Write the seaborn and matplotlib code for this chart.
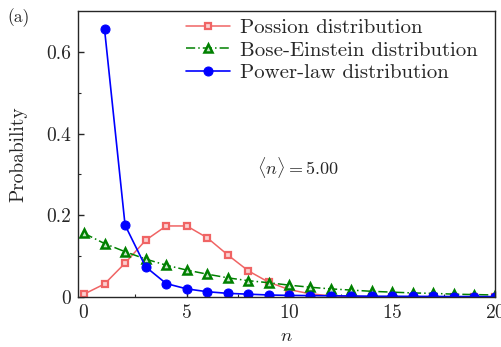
import numpy as np
import pandas as pd
import seaborn as sns
import matplotlib.pyplot as plt

# values
n_vals = list(range(0, 21))
poisson = [0.007, 0.032, 0.083, 0.139, 0.174, 0.174, 0.145, 0.103, 0.064, 0.036,
           0.018, 0.008, 0.003, 0.0015, 0.0006, 0.0002, 0.0001, 0.0, 0.0, 0.0, 0.0]
bose = [0.156, 0.131, 0.111, 0.093, 0.078, 0.066, 0.056, 0.047, 0.040, 0.035,
        0.029, 0.024, 0.020, 0.017, 0.014, 0.012, 0.010, 0.009, 0.007, 0.006, 0.005]
n_pow = list(range(1, 21))
power = [0.656, 0.176, 0.074, 0.033, 0.020, 0.013, 0.009, 0.007, 0.005, 0.004,
         0.0035, 0.003, 0.0025, 0.002, 0.0018, 0.0016, 0.0014, 0.0012, 0.0011, 0.001]

sns.set_style("ticks")
plt.rcParams['font.family'] = ['serif']
plt.rcParams['font.serif'] = ['cmr10', 'DejaVu Serif']
plt.rcParams['mathtext.fontset'] = 'cm'
plt.rcParams['axes.formatter.use_mathtext'] = True

fig = plt.figure(figsize=(5.02, 3.47), dpi=100)
ax = fig.add_axes([0.155, 0.144, 0.831, 0.824])

sns.lineplot(x=n_vals, y=poisson, ax=ax, color='#f06464', lw=1.1, marker='s',
             ms=4.5, mfc='#fbd0d0', mec='#f06464', mew=1.6, label='Possion distribution')
sns.lineplot(x=n_vals, y=bose, ax=ax, color='#008000', lw=1.1, marker='^',
             ms=5.5, mfc='#c8e6c8', mec='#008000', mew=1.8, label='Bose-Einstein distribution')
ax.lines[-1].set_dashes([6, 2, 1, 2])
sns.lineplot(x=n_pow, y=power, ax=ax, color='#0000ff', lw=1.2, marker='o',
             ms=6.5, mec='#0000ff', label='Power-law distribution')

ax.set_xlim(-0.3, 20)
ax.set_ylim(0, 0.70)
ax.set_xticks([0, 5, 10, 15, 20])
ax.set_xticks([2.5, 7.5, 12.5, 17.5], minor=True)
ax.set_yticks([0, 0.2, 0.4, 0.6])
ax.set_yticks([0.1, 0.3, 0.5], minor=True)
ax.set_yticklabels(['0', '0.2', '0.4', '0.6'])
ax.tick_params(direction='in', labelsize=14, length=4, width=1, pad=5)
ax.tick_params(which='minor', direction='in', length=2.5, width=0.8)
for s in ax.spines.values():
    s.set_linewidth(1.0)
    s.set_visible(True)

ax.set_xlabel('$n$', fontsize=13.5, labelpad=4)
ax.set_ylabel('Probability', fontsize=14, labelpad=13)
ax.text(10.4, 0.316, r'$\langle n\rangle = 5.00$', fontsize=13, ha='center', va='center')
fig.text(0.015, 0.935, '(a)', fontsize=12.5)

leg = ax.legend(loc='upper right', frameon=False, fontsize=15, handlelength=2.1,
                borderaxespad=0.1, labelspacing=0.2, handletextpad=0.45,
                borderpad=0.25, bbox_to_anchor=(0.975, 1.0))

fig.savefig('out.png', dpi=100)
